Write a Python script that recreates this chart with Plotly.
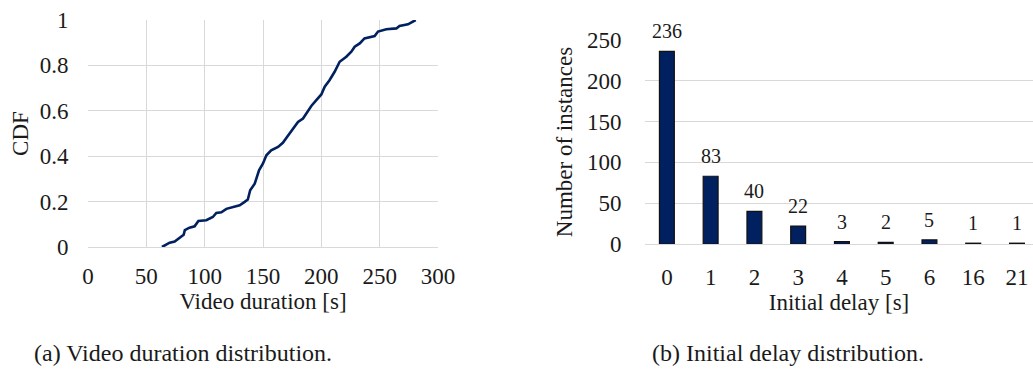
import plotly.graph_objects as go

# ---- data ----
duration_s = [63.4, 70, 74.3, 78.6, 82, 83, 87, 91.4, 94.6, 101.4, 107, 110, 114.3, 118.6,
              124.3, 130, 134.3, 137, 139, 142.9, 146.6, 150, 152.9, 157, 162.9, 167, 170.6,
              174.3, 177, 180, 184.3, 187, 191.4, 195.7, 200, 202.9, 207, 211.4, 215.7, 221.4,
              225.7, 228.6, 232.9, 237, 245.7, 248.6, 255.7, 264.3, 267, 274.3, 280.9]
cdf = [0.0, 0.019, 0.024, 0.041, 0.054, 0.074, 0.085, 0.091, 0.115, 0.118, 0.132, 0.15, 0.153,
       0.168, 0.176, 0.184, 0.199, 0.209, 0.25, 0.279, 0.338, 0.368, 0.404, 0.426, 0.441, 0.459,
       0.485, 0.512, 0.529, 0.551, 0.566, 0.588, 0.621, 0.647, 0.672, 0.706, 0.735, 0.772, 0.816,
       0.838, 0.86, 0.882, 0.897, 0.919, 0.929, 0.949, 0.959, 0.963, 0.974, 0.981, 1.0]

delay_categories = ["0", "1", "2", "3", "4", "5", "6", "16", "21"]
delay_counts = [236, 83, 40, 22, 3, 2, 5, 1, 1]

cdf_ticks = [0, 0.2, 0.4, 0.6, 0.8, 1]
cdf_tick_labels = ["0", "0.2", "0.4", "0.6", "0.8", "1"]

FONT = "Liberation Serif"
NAVY = "#002060"
GRID = "#d9d9d9"
TXT = "#1a1a1a"
W, H = 1033, 369
FS = 23

fig = go.Figure()

fig.add_trace(go.Scatter(x=duration_s, y=cdf, mode="lines", line=dict(color=NAVY, width=2.6),
                         xaxis="x", yaxis="y", showlegend=False))

fig.add_trace(go.Bar(x=delay_categories, y=delay_counts,
                     marker=dict(color=NAVY, line=dict(color="#111", width=1.2)),
                     xaxis="x2", yaxis="y2", showlegend=False, width=0.34))

annotations = [
    dict(text="(a) Video duration distribution.", x=183 / W, y=(H - 353) / H, xref="paper", yref="paper",
         showarrow=False, font=dict(family=FONT, size=24, color=TXT), xanchor="center", yanchor="middle"),
    dict(text="(b) Initial delay distribution.", x=788 / W, y=(H - 353) / H, xref="paper", yref="paper",
         showarrow=False, font=dict(family=FONT, size=24, color=TXT), xanchor="center", yanchor="middle"),
]
for i, val in enumerate(delay_counts):
    annotations.append(dict(text=str(val), x=i, y=val, xref="x2", yref="y2", showarrow=False,
                            yanchor="middle", yshift=20,
                            font=dict(family=FONT, size=20, color=TXT)))

fig.update_layout(
    width=W, height=H,
    margin=dict(l=0, r=0, t=0, b=0),
    paper_bgcolor="white", plot_bgcolor="white",
    font=dict(family=FONT, size=FS, color=TXT),
    xaxis=dict(domain=[88 / W, 438 / W], range=[0, 300], dtick=50,
               showgrid=True, gridcolor=GRID, gridwidth=1,
               showline=True, linecolor=GRID, mirror=False, zeroline=False,
               ticks="outside", ticklen=8, tickcolor="rgba(0,0,0,0)",
               tickfont=dict(family=FONT, size=FS, color=TXT),
               title=dict(text="Video duration [s]", font=dict(family=FONT, size=FS, color=TXT), standoff=5),
               anchor="y", automargin=False),
    yaxis=dict(domain=[(H - 247) / H, (H - 20) / H], range=[0, 1],
               tickvals=cdf_ticks, ticktext=cdf_tick_labels,
               showgrid=True, gridcolor=GRID, gridwidth=1,
               showline=False, zeroline=False,
               ticks="outside", ticklen=14, tickcolor="rgba(0,0,0,0)",
               tickfont=dict(family=FONT, size=FS, color=TXT),
               title=dict(text="CDF", font=dict(family=FONT, size=FS, color=TXT), standoff=4),
               anchor="x", automargin=False),
    xaxis2=dict(domain=[645 / W, 1.0], range=[-0.5, 8.366], type="category",
                showgrid=False, showline=False, zeroline=False,
                ticks="outside", ticklen=12, tickcolor="rgba(0,0,0,0)",
                tickfont=dict(family=FONT, size=FS, color=TXT),
                title=dict(text="Initial delay [s]", font=dict(family=FONT, size=FS, color=TXT), standoff=3),
                anchor="y2", automargin=False),
    yaxis2=dict(domain=[(H - 244) / H, (H - 40) / H], range=[0, 250], dtick=50,
                showgrid=True, gridcolor=GRID, gridwidth=1,
                showline=False, zeroline=True, zerolinecolor=GRID, zerolinewidth=1,
                ticks="outside", ticklen=18, tickcolor="rgba(0,0,0,0)",
                tickfont=dict(family=FONT, size=FS, color=TXT),
                title=dict(text="Number of instances", font=dict(family=FONT, size=FS, color=TXT), standoff=7),
                anchor="x2", automargin=False),
    annotations=annotations,
)

fig.write_html("out.html", config={"displayModeBar": False},
               post_script="document.body.style.margin='0';document.body.style.overflow='hidden';")
